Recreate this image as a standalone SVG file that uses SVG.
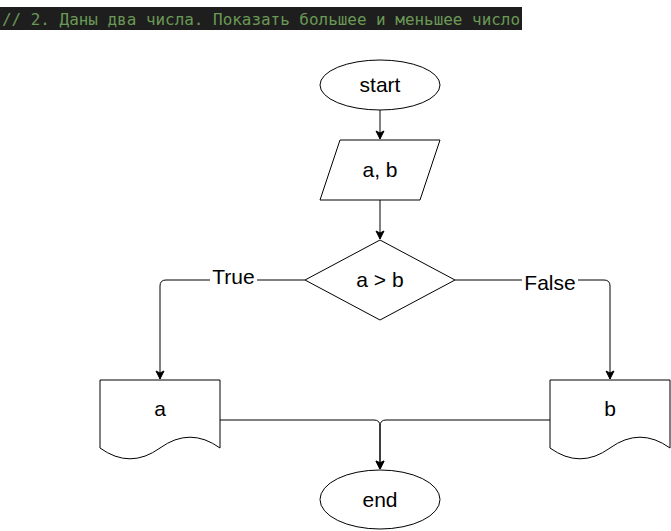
<svg xmlns="http://www.w3.org/2000/svg" width="671" height="531" viewBox="0 0 671 531">
<style>
.shape{fill:#ffffff;stroke:#000000;stroke-width:1}
.edge{fill:none;stroke:#000000;stroke-width:1}
.lbl{font-family:"Liberation Sans",Arial,Helvetica,sans-serif;font-size:21px;fill:#000000;text-anchor:middle}
.code{font-family:"DejaVu Sans Mono","Liberation Mono",monospace;font-size:16px;fill:#6a9955}
</style>
<defs>
<marker id="arr" markerUnits="userSpaceOnUse" markerWidth="12" markerHeight="12" viewBox="-10 -6 12 12" refX="0" refY="0" orient="auto">
<path d="M0,0 L-8,-4 L-6,0 L-8,4 Z" fill="#000000" stroke="#000000" stroke-width="1"/>
</marker>
</defs>
<rect width="671" height="531" fill="#ffffff"/>
<g id="header">
<rect x="0" y="7" width="522" height="23" fill="#1e1e1e"/>
<text class="code" x="2" y="24.5" textLength="518" lengthAdjust="spacingAndGlyphs">// 2. Даны два числа. Показать большее и меньшее число</text>
</g>
<g id="connectors">
<path class="edge" d="M380,110 L380,139" marker-end="url(#arr)"/>
<path class="edge" d="M380,200 L380,239" marker-end="url(#arr)"/>
<path class="edge" d="M305,280 L166,280 Q160,280 160,286 L160,379" marker-end="url(#arr)"/>
<path class="edge" d="M455,280 L604,280 Q610,280 610,286 L610,379" marker-end="url(#arr)"/>
<path class="edge" d="M220,420 L374,420 Q380,420 380,426 L380,469" marker-end="url(#arr)"/>
<path class="edge" d="M550,420 L386,420 Q380,420 380,426 L380,469" marker-end="url(#arr)"/>
<rect x="210" y="266" width="47" height="22" fill="#ffffff"/>
<text class="lbl" x="233.5" y="284">True</text>
<rect x="522" y="271" width="56" height="22" fill="#ffffff"/>
<text class="lbl" x="550" y="289.5">False</text>
</g>
<g id="start">
<ellipse class="shape" cx="380" cy="85" rx="60" ry="25"/>
<text class="lbl" x="380" y="92.3">start</text>
</g>
<g id="input">
<polygon class="shape" points="340,140 440,140 420,200 320,200"/>
<text class="lbl" x="380" y="177">a, b</text>
</g>
<g id="decision">
<polygon class="shape" points="380,240 455,280 380,320 305,280"/>
<text class="lbl" x="380" y="287.3">a &gt; b</text>
</g>
<g id="outA">
<path class="shape" d="M100,380 L220,380 L220,448 Q190,426.4 160,448 Q130,469.6 100,448 Z"/>
<text class="lbl" x="160" y="415.5">a</text>
</g>
<g id="outB">
<path class="shape" d="M550,380 L670,380 L670,448 Q640,426.4 610,448 Q580,469.6 550,448 Z"/>
<text class="lbl" x="610" y="415.5">b</text>
</g>
<g id="end">
<ellipse class="shape" cx="380" cy="499.5" rx="60" ry="29.5"/>
<text class="lbl" x="380" y="506.5">end</text>
</g>
</svg>
